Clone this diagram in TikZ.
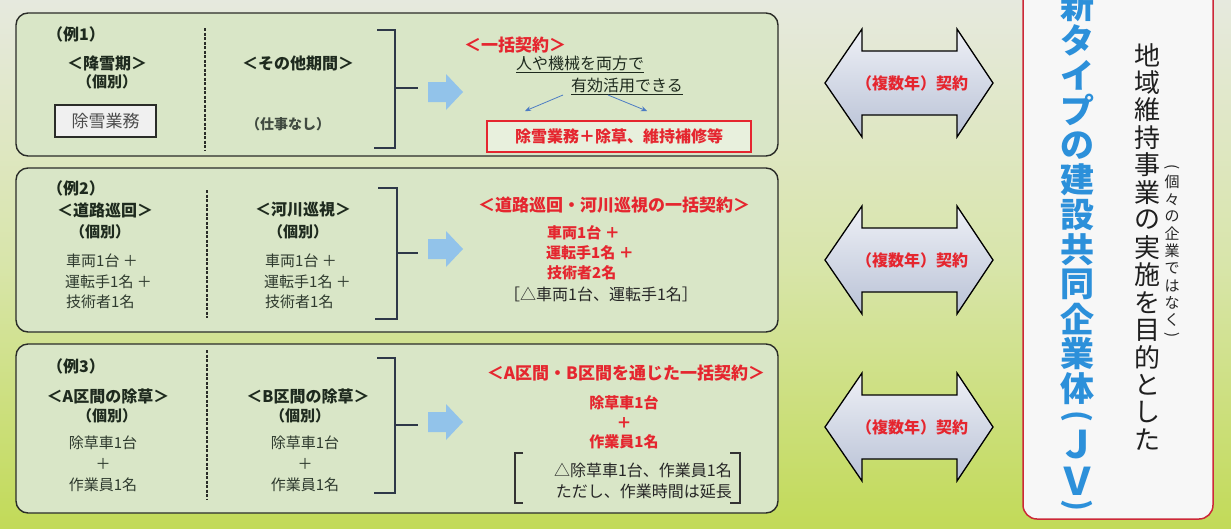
\documentclass[tikz,border=0pt]{standalone}
\usepackage{fontspec}
\newfontfamily\jp{Noto Sans CJK JP}
\usetikzlibrary{arrows.meta}
\newcommand\myfs[1]{\fontsize{#1}{#1}\selectfont}
\definecolor{bgtop}{HTML}{E6E9DE}
\definecolor{bgmid}{HTML}{D8E5AA}
\definecolor{bgbot}{HTML}{C2DA58}
\definecolor{panelfill}{HTML}{D9E6C7}
\definecolor{panelline}{HTML}{2A2C28}
\definecolor{hdrcol}{HTML}{1E2A1E}
\definecolor{mincol}{HTML}{2E3A2E}
\definecolor{redcol}{HTML}{E5262F}
\definecolor{fatblue}{HTML}{92C3EA}
\definecolor{thinblue}{HTML}{4C7CC4}
\definecolor{jvblue}{HTML}{2C90DA}
\definecolor{arrtop}{HTML}{EEF0F6}
\definecolor{arrbot}{HTML}{B9C2D6}
\definecolor{boxred}{HTML}{CC2838}
\definecolor{brkcol}{HTML}{2E3848}
\newcommand\dblarrow[2]{%
  \draw[dbl] (825,#1) -- (862,{#1-54}) -- (862,{#1-32}) -- (957,{#1-32}) -- (957,{#1-54})
    -- (993,#1) -- (957,{#1+54}) -- (957,{#1+32}) -- (862,{#1+32}) -- (862,{#1+54}) -- cycle;
  \node[dbltxt] (#2) at (912,#1) {（複数年）契約};}
\newcommand\fatarrow[1]{%
  \fill[fatblue] (428,{#1-10}) -- (446,{#1-10}) -- (446,{#1-18}) -- (463,#1)
    -- (446,{#1+18}) -- (446,{#1+10}) -- (428,{#1+10}) -- cycle;}
\begin{document}
\begin{tikzpicture}[x=1pt,y=-1pt,
  every node/.style={inner sep=0pt, font=\jp},
  panel/.style={draw=panelline, line width=1.4pt, fill=panelfill, rounded corners=12pt},
  hdr/.style={font=\jp\bfseries\myfs{16}, text=hdrcol},
  exl/.style={font=\jp\bfseries\myfs{16}, text=hdrcol},
  ind/.style={font=\jp\bfseries\myfs{15}, text=hdrcol},
  mtx/.style={font=\jp\myfs{15}, text=mincol},
  redt/.style={font=\jp\bfseries\myfs{17}, text=redcol},
  redm/.style={font=\jp\bfseries\myfs{15}, text=redcol},
  blk/.style={font=\jp\myfs{16}, text=black!85},
  sepline/.style={draw=panelline, line width=1.1pt, dash pattern=on 3pt off 1.5pt},
  brk/.style={draw=brkcol, line width=1.1pt},
  thinarr/.style={draw=thinblue, line width=0.8pt, -{Stealth[length=6pt,width=5pt]}},
  dbl/.style={draw=black, line width=1.3pt, top color=arrtop, bottom color=arrbot},
  dbltxt/.style={font=\jp\bfseries\myfs{16}, text=redcol},
  jvbox/.style={draw=boxred, line width=1.5pt, fill=white!97!black, rounded corners=14pt},
  jvch/.style={font=\jp\bfseries\myfs{34}, text=jvblue},
  vch/.style={font=\jp\myfs{26}, text=black!88},
  sch/.style={font=\jp\myfs{15}, text=black!85}]
\useasboundingbox (0,0) rectangle (1231,528);
% background
\shade[top color=bgtop, bottom color=bgmid] (0,0) rectangle (1231,264.5);
\shade[top color=bgmid, bottom color=bgbot] (0,264) rectangle (1231,528);

% ---------------- panel 1
\draw[panel] (16,13) rectangle (778,156);
\draw[sepline] (205,28) -- (205,150);
\node[exl] (ex1) at (76,34) {（例1）};
\node[hdr] (h1a) at (107,63) {＜降雪期＞};
\node[ind] (i1a) at (107,82) {（個別）};
\node[draw=panelline, line width=1.1pt, fill=white!94!black, minimum width=101pt,
      minimum height=32pt, font=\jp\myfs{17}, text=black!70] (b1) at (105.5,121) {除雪業務};
\node[hdr] (h1b) at (298,63) {＜その他期間＞};
\node[font=\jp\bfseries\myfs{14}, text=hdrcol!85] (n1b) at (288,124) {（仕事なし）};
\draw[brk] (377,30) -- (395,30) -- (395,148) -- (374,148);
\coordinate (k1) at (395,88);
\coordinate (k1e) at (418,88);
\draw[brk] (k1) -- (k1e);
\fatarrow{92}
\node[redt] (t1) at (515,45) {＜一括契約＞};
\node[font=\jp\myfs{16}, text=hdrcol] (u1) at (580,64) {\underline{人や機械を両方で}};
\node[font=\jp\myfs{16}, text=hdrcol] (u2) at (627,86) {\underline{有効活用できる}};
\node[draw=redcol, line width=1.4pt, fill=panelfill!60!white, minimum width=264pt,
      minimum height=31pt, font=\jp\bfseries\myfs{16}, text=redcol] (r1) at (619,136.5)
      {除雪業務＋除草、維持補修等};
\coordinate (a1s) at (563,95);
\coordinate (a1e) at (525,111);
\coordinate (a2s) at (608,95);
\coordinate (a2e) at (647,111);
\draw[thinarr] (a1s) -- (a1e);
\draw[thinarr] (a2s) -- (a2e);

% ---------------- panel 2
\draw[panel] (16,168) rectangle (778,332);
\draw[sepline] (207,190) -- (207,318);
\node[exl] (ex2) at (76,188) {（例2）};
\node[hdr] (h2a) at (105,210) {＜道路巡回＞};
\node[ind] (i2a) at (100,232) {（個別）};
\node[mtx, anchor=west] (m2a1) at (66,261) {車両1台 ＋};
\node[mtx, anchor=west] (m2a2) at (65,282) {運転手1名 ＋};
\node[mtx, anchor=west] (m2a3) at (66,302) {技術者1名};
\node[hdr] (h2b) at (303,210) {＜河川巡視＞};
\node[ind] (i2b) at (298,232) {（個別）};
\node[mtx, anchor=west] (m2b1) at (265,261) {車両1台 ＋};
\node[mtx, anchor=west] (m2b2) at (264,282) {運転手1名 ＋};
\node[mtx, anchor=west] (m2b3) at (265,302) {技術者1名};
\draw[brk] (378,188) -- (397,188) -- (397,319) -- (375,319);
\coordinate (k2) at (397,253);
\coordinate (k2e) at (418,253);
\draw[brk] (k2) -- (k2e);
\fatarrow{249}
\node[redt] (t2) at (614,205) {＜道路巡回・河川巡視の一括契約＞};
\node[redm, anchor=west] (r2a) at (547,233) {車両1台 ＋};
\node[redm, anchor=west] (r2b) at (546,253) {運転手1名 ＋};
\node[redm, anchor=west] (r2c) at (547,273) {技術者2名};
\node[blk] (b2) at (601,294) {［△車両1台、運転手1名］};

% ---------------- panel 3
\draw[panel] (16,344) rectangle (778,513);
\draw[sepline] (207,350) -- (207,500);
\node[exl] (ex3) at (76,366) {（例3）};
\node[hdr] (h3a) at (108,396) {＜A区間の除草＞};
\node[ind] (i3a) at (107,416) {（個別）};
\node[mtx] (m3a1) at (103,443) {除草車1台};
\node[mtx] (m3a2) at (103,464) {＋};
\node[mtx] (m3a3) at (103,485) {作業員1名};
\node[hdr] (h3b) at (308,396) {＜B区間の除草＞};
\node[ind] (i3b) at (300,416) {（個別）};
\node[mtx] (m3b1) at (305,443) {除草車1台};
\node[mtx] (m3b2) at (305,464) {＋};
\node[mtx] (m3b3) at (305,485) {作業員1名};
\draw[brk] (377,358) -- (395,358) -- (395,493) -- (374,493);
\coordinate (k3) at (395,425);
\coordinate (k3e) at (418,425);
\draw[brk] (k3) -- (k3e);
\fatarrow{422}
\node[redt] (t3) at (626,373) {＜A区間・B区間を通じた一括契約＞};
\node[redm] (r3a) at (624,403) {除草車1台};
\node[redm] (r3b) at (624,423) {＋};
\node[redm] (r3c) at (624,442) {作業員1名};
\draw[brk, draw=black!80] (523,453) -- (515,453) -- (515,503) -- (523,503);
\draw[brk, draw=black!80] (730,453) -- (740,453) -- (740,503) -- (730,503);
\node[blk, anchor=east] (b3a) at (732,470) {△除草車1台、作業員1名};
\node[blk, anchor=east] (b3b) at (732,491) {ただし、作業時間は延長};

% ---------------- double arrows
\dblarrow{83}{c1}
\dblarrow{260}{c2}
\dblarrow{427}{c3}

% ---------------- JV box
\draw[jvbox] (1023,-30) rectangle (1213,519);
\foreach \c [count=\i from 0] in {新,タ,イ,プ,の,建,設,共,同,企,業,体}
  \node[jvch] (jv\i) at (1077,{6+34.8*\i}) {\c};
\node[jvch, font=\jp\bfseries\myfs{30}, rotate=-90] (jvpl) at (1077,416) {(};
\node[jvch, font=\jp\bfseries\myfs{38}] (jvJ) at (1077,445) {Ｊ};
\node[jvch, font=\jp\bfseries\myfs{38}] (jvV) at (1077,481) {Ｖ};
\node[jvch, font=\jp\bfseries\myfs{30}, rotate=-90] (jvpr) at (1077,505) {)};
\foreach \c [count=\i from 0] in {地,域,維,持,事,業,の,実,施,を,目,的,と,し,た}
  \node[vch] (v\i) at (1147,{55+27.5*\i}) {\c};
\node[sch, rotate=-90] (spl) at (1172,167) {(};
\foreach \c [count=\i from 0] in {個,々,の,企,業,で,は,な,く}
  \node[sch] (s\i) at (1172,{182+17.3*\i}) {\c};
\node[sch, rotate=-90] (spr) at (1172,335) {)};
\end{tikzpicture}
\end{document}
